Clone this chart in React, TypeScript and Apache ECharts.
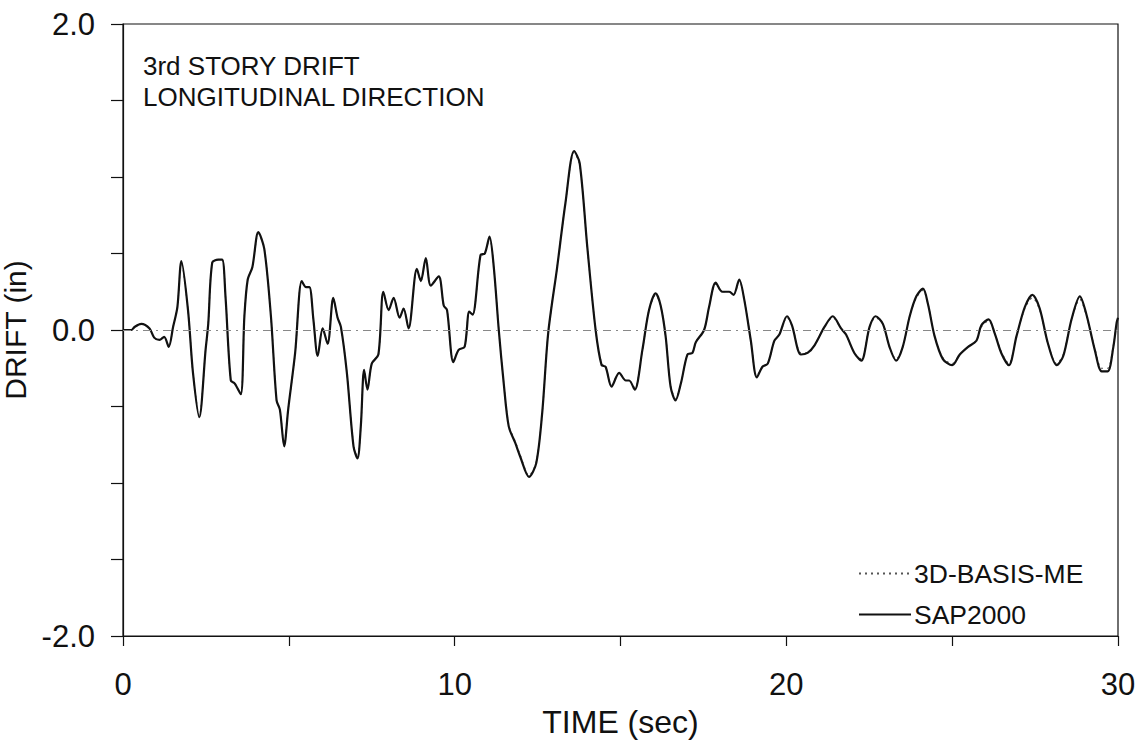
import React, { useEffect, useRef } from "react";
import * as echarts from "echarts";

const times = [
  0, 0.25, 0.35, 0.55, 0.8, 0.94, 1.1, 1.24, 1.38, 1.51, 1.64, 1.76, 1.96, 2.11, 2.3, 2.49, 2.57, 2.69, 2.87, 2.99,
  3.09, 3.25, 3.37, 3.55, 3.66, 3.76, 3.9, 4.08, 4.26, 4.46, 4.63, 4.73, 4.86, 4.98, 5.19, 5.39, 5.52, 5.62, 5.74, 5.87,
  6.02, 6.17, 6.34, 6.47, 6.57, 6.75, 6.95, 7.07, 7.17, 7.27, 7.37, 7.5, 7.7, 7.85, 8.01, 8.16, 8.34, 8.46, 8.61, 8.86,
  8.98, 9.13, 9.28, 9.52, 9.67, 9.77, 9.96, 10.12, 10.3, 10.44, 10.54, 10.78, 10.91, 11.05, 11.18, 11.33, 11.48, 11.63, 11.83, 11.98,
  12.24, 12.46, 12.64, 12.82, 13.09, 13.34, 13.6, 13.77, 14.0, 14.25, 14.43, 14.55, 14.73, 14.96, 15.16, 15.26, 15.43, 15.66, 15.86, 16.06,
  16.21, 16.36, 16.51, 16.66, 16.82, 17.02, 17.17, 17.27, 17.52, 17.67, 17.87, 18.07, 18.28, 18.41, 18.58, 18.73, 18.93, 19.11, 19.28, 19.44,
  19.64, 19.79, 20.02, 20.17, 20.44, 20.64, 20.85, 21.15, 21.4, 21.65, 21.8, 22.05, 22.26, 22.51, 22.69, 22.91, 23.11, 23.31, 23.51, 23.72,
  23.92, 24.12, 24.27, 24.47, 24.72, 25.0, 25.23, 25.48, 25.73, 25.88, 26.1, 26.28, 26.48, 26.71, 26.94, 27.19, 27.42, 27.64, 27.89, 28.15,
  28.35, 28.6, 28.85, 29.05, 29.3, 29.51, 29.69, 29.86, 29.96, 30.0,
];

const sap2000 = [
  0, 0, 0.02, 0.04, 0.01, -0.05, -0.065, -0.045, -0.11, 0.02, 0.15, 0.45, 0.13, -0.28, -0.57, -0.13, 0.04, 0.44, 0.46, 0.46,
  0.22, -0.33, -0.35, -0.42, 0.09, 0.33, 0.41, 0.64, 0.53, 0.09, -0.46, -0.52, -0.76, -0.52, -0.15, 0.32, 0.28, 0.28, 0.07, -0.17,
  0.01, -0.09, 0.21, 0.08, 0.02, -0.28, -0.76, -0.84, -0.63, -0.26, -0.39, -0.22, -0.16, 0.25, 0.13, 0.21, 0.08, 0.14, 0.01, 0.4,
  0.32, 0.47, 0.29, 0.35, 0.16, 0.13, -0.21, -0.13, -0.11, 0.12, 0.1, 0.49, 0.5, 0.61, 0.41, 0.0, -0.35, -0.63, -0.74, -0.83,
  -0.96, -0.87, -0.54, -0.02, 0.41, 0.83, 1.17, 1.09, 0.54, 0, -0.23, -0.24, -0.37, -0.28, -0.33, -0.33, -0.39, -0.13, 0.13, 0.24,
  0.16, -0.04, -0.37, -0.46, -0.35, -0.16, -0.15, -0.08, 0, 0.15, 0.31, 0.25, 0.25, 0.23, 0.33, 0.2, -0.07, -0.31, -0.24, -0.22,
  -0.07, -0.03, 0.09, 0.03, -0.16, -0.15, -0.1, 0.02, 0.09, 0.01, -0.03, -0.15, -0.2, 0.02, 0.09, 0.04, -0.11, -0.2, -0.11, 0.09,
  0.22, 0.27, 0.17, -0.04, -0.19, -0.23, -0.16, -0.11, -0.07, 0.03, 0.07, -0.02, -0.15, -0.23, -0.04, 0.15, 0.23, 0.14, -0.09, -0.23,
  -0.17, 0.07, 0.22, 0.1, -0.13, -0.27, -0.27, -0.11, 0.05, 0.08,
];

const basisMe = [
  0, 0, 0.02, 0.04, 0.01, -0.05, -0.065, -0.045, -0.11, 0.02, 0.15, 0.44, 0.13, -0.28, -0.56, -0.13, 0.04, 0.44, 0.46, 0.46,
  0.22, -0.33, -0.35, -0.42, 0.09, 0.33, 0.41, 0.63, 0.53, 0.09, -0.46, -0.52, -0.75, -0.52, -0.15, 0.32, 0.28, 0.28, 0.07, -0.17,
  0.01, -0.09, 0.21, 0.08, 0.02, -0.28, -0.75, -0.83, -0.63, -0.26, -0.39, -0.22, -0.16, 0.25, 0.13, 0.21, 0.08, 0.14, 0.01, 0.4,
  0.32, 0.47, 0.29, 0.35, 0.16, 0.13, -0.2, -0.13, -0.11, 0.12, 0.1, 0.48, 0.5, 0.6, 0.41, 0.0, -0.35, -0.62, -0.73, -0.82,
  -0.95, -0.86, -0.54, -0.02, 0.41, 0.83, 1.16, 1.08, 0.54, 0, -0.22, -0.24, -0.36, -0.28, -0.33, -0.33, -0.38, -0.13, 0.13, 0.23,
  0.16, -0.04, -0.36, -0.45, -0.35, -0.16, -0.15, -0.08, 0, 0.15, 0.3, 0.25, 0.25, 0.23, 0.32, 0.2, -0.07, -0.3, -0.24, -0.22,
  -0.07, -0.03, 0.08, 0.03, -0.15, -0.15, -0.1, 0.02, 0.08, 0.01, -0.03, -0.15, -0.19, 0.02, 0.08, 0.04, -0.11, -0.19, -0.11, 0.09,
  0.21, 0.26, 0.17, -0.04, -0.18, -0.22, -0.16, -0.11, -0.07, 0.02, 0.06, -0.02, -0.14, -0.22, -0.04, 0.14, 0.21, 0.13, -0.09, -0.22,
  -0.16, 0.07, 0.2, 0.09, -0.12, -0.25, -0.25, -0.1, 0.04, 0.07,
];

const yLabels = [-2, 0, 2];
const xLabels = [0, 10, 20, 30];
const FONT = "'Liberation Sans', Arial, sans-serif";

export default function App() {
  const ref = useRef<HTMLDivElement>(null);
  useEffect(() => {
    document.body.style.margin = "0";
    const chart = echarts.init(ref.current!, null, { renderer: "svg" });
    chart.setOption({
      animation: false,
      backgroundColor: "#ffffff",
      textStyle: { fontFamily: FONT, color: "#111" },
      grid: {
        left: 123,
        right: 26,
        top: 24,
        bottom: 113,
        show: true,
        borderColor: "#111",
        borderWidth: 1.2,
        containLabel: false,
        outerBoundsMode: "none",
      },
      legend: {
        left: 858,
        top: 560,
        orient: "vertical",
        itemWidth: 52,
        itemHeight: 14,
        itemGap: 14,
        padding: 0,
        itemStyle: { opacity: 0 },
        textStyle: { fontSize: 26.5, fontFamily: FONT, color: "#111", padding: [0, 0, 0, -2] },
        data: ["3D-BASIS-ME", "SAP2000"],
      },
      graphic: [
        {
          type: "text",
          left: 143,
          top: 50,
          style: { text: "3rd STORY DRIFT\nLONGITUDINAL DIRECTION", fontSize: 26, lineHeight: 31, fontFamily: FONT, fill: "#111" },
        },
      ],
      xAxis: {
        type: "value",
        min: 0,
        max: 30,
        interval: 5,
        name: "TIME (sec)",
        nameLocation: "middle",
        nameGap: 70,
        nameTextStyle: { fontSize: 32, fontFamily: FONT, color: "#111" },
        axisLine: { show: true, onZero: false, lineStyle: { color: "#111", width: 1.2 } },
        axisTick: { show: true, inside: false, length: 10, lineStyle: { color: "#111", width: 1.2 } },
        axisLabel: {
          fontSize: 31,
          margin: 33,
          color: "#111",
          fontFamily: FONT,
          formatter: (v: number) => (xLabels.includes(v) ? String(v) : ""),
        },
        splitLine: { show: false },
      },
      yAxis: {
        type: "value",
        min: -2,
        max: 2,
        interval: 0.5,
        name: "DRIFT (in)",
        nameLocation: "middle",
        nameGap: 75,
        nameRotate: 90,
        nameTextStyle: { fontSize: 30, fontFamily: FONT, color: "#111" },
        axisLine: { show: true, onZero: false, lineStyle: { color: "#111", width: 1.2 } },
        axisTick: { show: true, inside: false, length: 12, lineStyle: { color: "#111", width: 1.2 } },
        axisLabel: {
          fontSize: 31,
          margin: 28,
          color: "#111",
          fontFamily: FONT,
          formatter: (v: number) => (yLabels.includes(v) ? v.toFixed(1) : ""),
        },
        splitLine: { show: false },
      },
      series: [
        {
          name: "3D-BASIS-ME",
          type: "line",
          symbol: "none",
          smooth: 0.3,
          data: times.map((t, i) => [t, basisMe[i]]),
          lineStyle: { color: "#555", width: 1.2, type: [2, 4] },
          itemStyle: { color: "#555" },
          markLine: {
            silent: true,
            symbol: "none",
            label: { show: false },
            lineStyle: { color: "#888", width: 1, type: [8, 5, 2, 5] },
            data: [{ yAxis: 0 }],
          },
          z: 2,
        },
        {
          name: "SAP2000",
          type: "line",
          symbol: "none",
          smooth: 0.3,
          data: times.map((t, i) => [t, sap2000[i]]),
          lineStyle: { color: "#111", width: 2.2 },
          itemStyle: { color: "#111" },
          z: 3,
        },
      ],
    });
    return () => chart.dispose();
  }, []);
  return <div ref={ref} style={{ width: 1144, height: 749 }} />;
}
